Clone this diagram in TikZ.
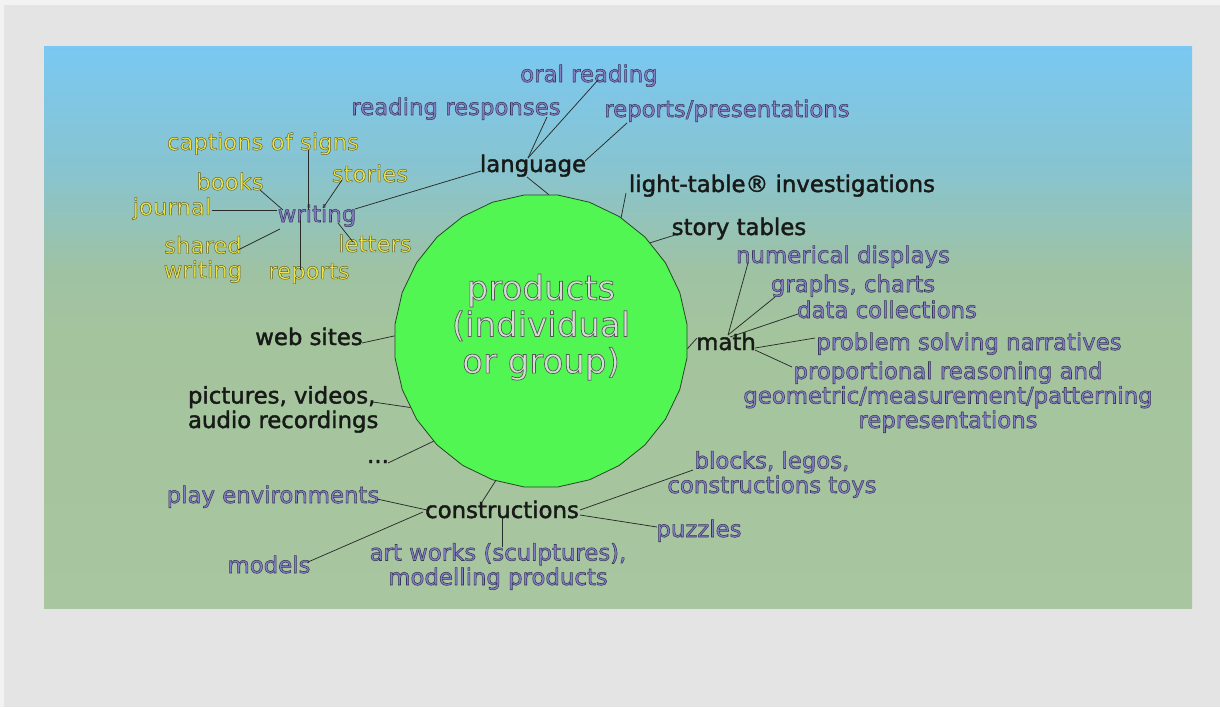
\documentclass[tikz,border=0pt]{standalone}
\usepackage{fontspec}
\setmainfont{DejaVu Sans}
\usetikzlibrary{shapes.geometric}
\definecolor{outerbg}{RGB}{228,228,228}
\definecolor{outeredge}{RGB}{242,242,242}
\definecolor{gtop}{RGB}{122,200,242}
\definecolor{gm1}{RGB}{136,196,208}
\definecolor{gm2}{RGB}{158,194,164}
\definecolor{gm3}{RGB}{164,196,158}
\definecolor{gbot}{RGB}{168,198,160}
\definecolor{circfill}{RGB}{82,246,82}
\definecolor{circline}{RGB}{40,70,40}
\definecolor{pufill}{RGB}{136,128,198}
\definecolor{yefill}{RGB}{236,228,74}
\definecolor{bkfill}{RGB}{24,26,24}
\definecolor{prodfill}{RGB}{212,222,212}
\definecolor{linec}{RGB}{40,44,40}
\pgfdeclareverticalshading{bgshade}{100bp}{color(0bp)=(gbot); color(25bp)=(gbot); color(49.7bp)=(gm3); color(55.2bp)=(gm2); color(64.1bp)=(gm1); color(75bp)=(gtop); color(100bp)=(gtop)}
% outlined text: fill colour #1, stroke colour (RGB 0-1) #2, stroke width #3
\newcommand\OutTxt[4]{{\color{#1}\special{pdf:literal direct 2 Tr #3 w #2 RG}#4\special{pdf:literal direct 0 Tr}}}
\newcommand\Pu[1]{\OutTxt{pufill}{0.22 0.21 0.36}{0.55}{#1}}
\newcommand\Ye[1]{\OutTxt{yefill}{0.38 0.37 0.14}{0.45}{#1}}
\newcommand\Bk[1]{{\color{bkfill}\special{pdf:literal direct 2 Tr 0.4 w}#1\special{pdf:literal direct 0 Tr}}}
\newcommand\Pc[1]{\OutTxt{prodfill}{0.33 0.35 0.33}{0.7}{#1}}
\tikzset{
  lbl/.style={inner sep=0pt, outer sep=0pt, anchor=base, font=\fontsize{22.8}{24.5}\selectfont},
  ml/.style={lbl, align=center},
  mlleft/.style={lbl, align=left, anchor=base west},
  con/.style={draw=linec, line width=0.75pt},
  prodcirc/.style={regular polygon, regular polygon sides=28, minimum size=294pt, inner sep=0pt,
    fill=circfill, draw=circline, line width=0.8pt, font=\fontsize{34}{36}\selectfont}
}
\begin{document}
\begin{tikzpicture}[x=1pt,y=-1pt]
\useasboundingbox (0,0) rectangle (1220,707);
% background
\fill[outerbg] (0,0) rectangle (1220,707);
\fill[outeredge] (0,0) rectangle (1220,5);
\fill[outeredge] (0,0) rectangle (4,707);
\shade[shading=bgshade] (44,46) rectangle (1192,608);

% central circle
\node[prodcirc] (prod) at (541,341) {\raisebox{12pt}[\height][\depth]{\begin{tabular}{@{}c@{}}\Pc{products}\\\Pc{(individual}\\\Pc{or group)}\end{tabular}}};

% language branch
\node[lbl] (lang) at (533,172) {\Bk{language}};
\node[lbl] (oral) at (589,82) {\Pu{oral reading}};
\node[lbl] (rresp) at (456,115) {\Pu{reading responses}};
\node[lbl] (rpres) at (727,117) {\Pu{reports/presentations}};
\node[lbl] (writing) at (317,222) {\Pu{writing}};
\node[lbl] (capt) at (263,150) {\Ye{captions of signs}};
\node[lbl] (stories) at (370,182) {\Ye{stories}};
\node[lbl] (books) at (230,190) {\Ye{books}};
\node[lbl] (journal) at (172,215) {\Ye{journal}};
\node[ml] (shared) at (203,278) {\Ye{shared}\\\Ye{writing}};
\node[lbl] (letters) at (375,252) {\Ye{letters}};
\node[lbl] (wreports) at (309,279) {\Ye{reports}};

% right side
\node[lbl] (light) at (782,192) {\Bk{light-table® investigations}};
\node[lbl] (story) at (739,235) {\Bk{story tables}};
\node[lbl] (math) at (726,350) {\Bk{math}};
\node[lbl] (numd) at (843,263) {\Pu{numerical displays}};
\node[lbl] (graphs) at (853,292) {\Pu{graphs, charts}};
\node[lbl] (datac) at (887,318) {\Pu{data collections}};
\node[lbl] (probs) at (969,350) {\Pu{problem solving narratives}};
\node[ml] (prop) at (948,428) {\Pu{proportional reasoning and}\\\Pu{geometric/measurement/patterning}\\\Pu{representations}};

% left side
\node[lbl] (web) at (309,345) {\Bk{web sites}};
\node[mlleft] (pics) at (188,428) {\Bk{pictures, videos,}\\\Bk{audio recordings}};
\node[lbl] (dots) at (378,463) {\Bk{...}};

% constructions
\node[lbl] (constr) at (502,518) {\Bk{constructions}};
\node[lbl] (play) at (273,503) {\Pu{play environments}};
\node[lbl] (models) at (269,573) {\Pu{models}};
\node[ml] (art) at (498,585) {\Pu{art works (sculptures),}\\\Pu{modelling products}};
\node[ml] (blocks) at (772,493) {\Pu{blocks, legos,}\\\Pu{constructions toys}};
\node[lbl] (puzzles) at (699,537) {\Pu{puzzles}};

% connectors: language
\draw[con] ([shift={(-6,5)}]lang.base) -- (prod.87);
\draw[con] ([shift={(-5,-14)}]lang.base) -- ([shift={(9,-2)}]oral.base);
\draw[con] ([shift={(-5,-14)}]lang.base) -- ([shift={(91,2)}]rresp.base);
\draw[con] ([shift={(52,-11)}]lang.base) -- ([shift={(-100,6)}]rpres.base);
\draw[con] ([shift={(-52,-1)}]lang.base) -- ([shift={(38,-13)}]writing.base);
% writing
\draw[con] ([shift={(-9,-12)}]writing.base) -- ([shift={(45,0)}]capt.base);
\draw[con] ([shift={(-34,-12)}]writing.base) -- ([shift={(30,0)}]books.base);
\draw[con] ([shift={(-40,-12)}]writing.base) -- ([shift={(40,-5)}]journal.base);
\draw[con] ([shift={(6,-14)}]writing.base) -- ([shift={(-28,-2)}]stories.base);
\draw[con] ([shift={(21,1)}]writing.base) -- ([shift={(-22,-10)}]letters.base);
\draw[con] ([shift={(-37,7)}]writing.base) -- ([shift={(35,-28)}]shared.base);
\draw[con] ([shift={(-17,-2)}]writing.base) -- ([shift={(-9,-9)}]wreports.base);
% right side
\draw[con] (prod.57) -- ([shift={(-156,1)}]light.base);
\draw[con] (prod.42) -- ([shift={(-64,0)}]story.base);
\draw[con] (prod.-3) -- ([shift={(-29,-12)}]math.base);
\draw[con] ([shift={(2,-15)}]math.base) -- ([shift={(-95,0)}]numd.base);
\draw[con] ([shift={(2,-15)}]math.base) -- ([shift={(-78,5)}]graphs.base);
\draw[con] ([shift={(4,-13)}]math.base) -- ([shift={(-89,-4)}]datac.base);
\draw[con] ([shift={(29,-2)}]math.base) -- ([shift={(-154,-12)}]probs.base);
\draw[con] ([shift={(29,0)}]math.base) -- ([shift={(-156,-61)}]prop.base);
% left side
\draw[con] (prod.178) -- ([shift={(53,-2)}]web.base);
\draw[con] (prod.207) -- ([shift={(185,-26)}]pics.base west);
\draw[con] (prod.223) -- ([shift={(10,0)}]dots.base);
% constructions
\draw[con] (prod.252) -- ([shift={(-20,-16)}]constr.base);
\draw[con] ([shift={(-75,-8)}]constr.base) -- ([shift={(104,-4)}]play.base);
\draw[con] ([shift={(-79,-6)}]constr.base) -- ([shift={(39,-11)}]models.base);
\draw[con] (constr.base) -- ([shift={(4,-38)}]art.base);
\draw[con] ([shift={(78,-8)}]constr.base) -- ([shift={(-79,-23)}]blocks.base);
\draw[con] ([shift={(78,-3)}]constr.base) -- ([shift={(-42,-10)}]puzzles.base);
\end{tikzpicture}
\end{document}
